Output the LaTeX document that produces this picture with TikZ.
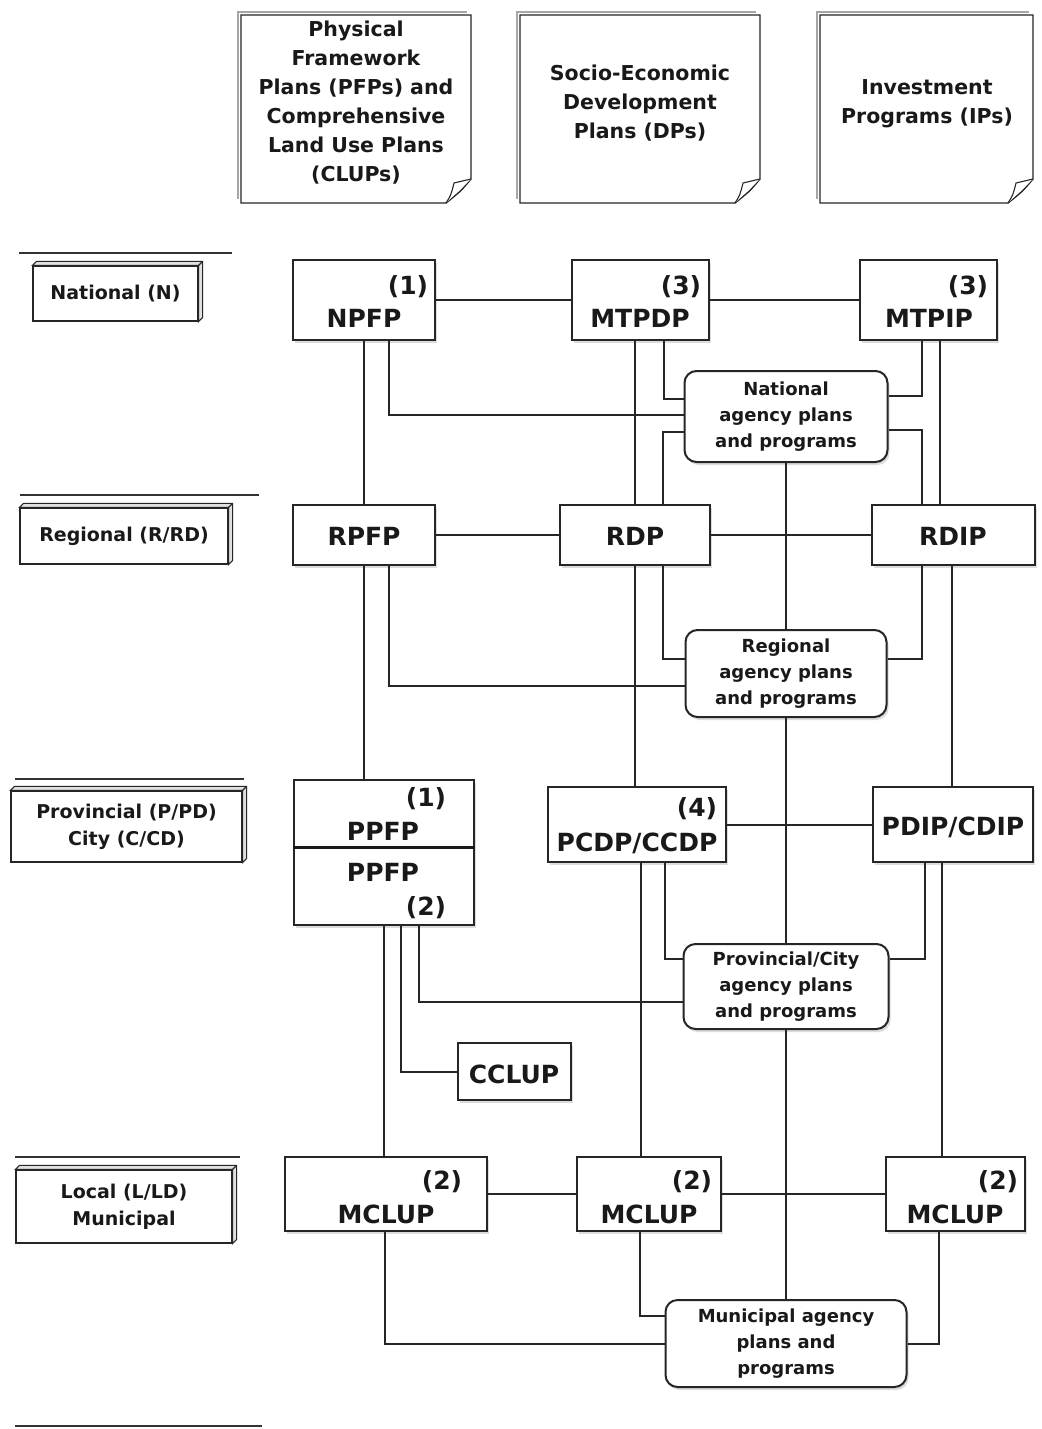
\documentclass[tikz,border=0pt]{standalone}
\usepackage{fontspec}
\setmainfont{DejaVu Sans}
\usetikzlibrary{shadows}
\tikzset{
  ink/.style={draw=black!85},
  conn/.style={draw=black!85, line width=1.3pt},
  pbox/.style={draw=black!85, line width=1.5pt, fill=white, inner sep=0pt,
    drop shadow={shadow xshift=2pt, shadow yshift=-3pt, fill=black!30, opacity=0.45}},
  agency/.style={pbox, rounded corners=12pt, line width=2pt, align=center,
    font=\fontsize{18}{26}\selectfont\bfseries, text=black!90},
  big/.style={anchor=base, inner sep=0pt, font=\fontsize{25}{30}\selectfont\bfseries, text=black!90},
  level/.style={draw=black!85, line width=1.2pt, fill=white, inner sep=0pt, align=center,
    font=\fontsize{19}{27}\selectfont\bfseries, text=black!90},
  doc/.style={draw=black!85, line width=1.4pt, fill=white},
  doctext/.style={align=center, inner sep=0pt, font=\fontsize{20.5}{29}\selectfont\bfseries, text=black!90},
  sep/.style={draw=black!80, line width=1.3pt},
}
\newcommand{\docpage}[4]{%
  \draw[black!35, line width=2.2pt] (#1-3,#4-4) -- (#1-3,#2-3) -- (#3-4,#2-3);
  \draw[doc] (#1,#2) -- (#3,#2) -- (#3,#4-24) .. controls (#3-10,#4-12) .. (#3-25,#4) -- (#1,#4) -- cycle;
  \draw[doc, line width=1.1pt] (#3-25,#4) .. controls (#3-20,#4-8) .. (#3-17,#4-20) -- (#3,#4-24);
}
\newcommand{\depthbox}[1]{%
  \draw[ink, line width=1.1pt, fill=black!12] (#1.north west) -- ++(4,-4) -- ([shift={(4pt,4pt)}]#1.north east)
    -- ([shift={(4pt,4pt)}]#1.south east) -- (#1.south east) -- (#1.north east) -- cycle;
  \draw[ink, line width=1.1pt] (#1.north east) -- ++(4,-4);
}
\begin{document}
\begin{tikzpicture}[x=1pt, y=-1pt]
\useasboundingbox (0,0) rectangle (1041,1429);
\fill[white] (0,0) rectangle (1041,1429);

% ---------- top documents ----------
\docpage{241}{15}{471}{203}
\docpage{520}{15}{760}{203}
\docpage{820}{15}{1033}{203}
\node[doctext] (docA) at (356,103) {Physical\\Framework\\Plans (PFPs) and\\Comprehensive\\Land Use Plans\\(CLUPs)};
\node[doctext] (docB) at (640,103) {Socio-Economic\\Development\\Plans (DPs)};
\node[doctext] (docC) at (927,104) {Investment\\Programs (IPs)};

% ---------- level separators ----------
\draw[sep] (19,253) -- (232,253);
\draw[sep] (20,495) -- (259,495);
\draw[sep] (15,779) -- (244,779);
\draw[sep] (15,1157) -- (240,1157);
\draw[sep] (15,1426) -- (262,1426);

% ---------- level labels ----------
\node[level, minimum width=165pt, minimum height=55pt] (lvN) at (115.5,293.5) {National (N)};
\node[level, minimum width=208pt, minimum height=56pt] (lvR) at (124,536) {Regional (R/RD)};
\node[level, minimum width=231pt, minimum height=71pt] (lvP) at (126.5,826.5) {Provincial (P/PD)\\City (C/CD)};
\node[level, minimum width=216pt, minimum height=73pt] (lvL) at (124,1206.5) {Local (L/LD)\\Municipal};
\depthbox{lvN}
\depthbox{lvR}
\depthbox{lvP}
\depthbox{lvL}

% ---------- plan boxes ----------
\node[pbox, minimum width=142pt, minimum height=80pt] (npfp) at (364,300) {};
\node[pbox, minimum width=137pt, minimum height=80pt] (mtpdp) at (640.5,300) {};
\node[pbox, minimum width=137pt, minimum height=80pt] (mtpip) at (928.5,300) {};
\node[pbox, minimum width=142pt, minimum height=60pt] (rpfp) at (364,535) {};
\node[pbox, minimum width=150pt, minimum height=60pt] (rdp) at (635,535) {};
\node[pbox, minimum width=163pt, minimum height=60pt] (rdip) at (953.5,535) {};
\node[pbox, minimum width=180pt, minimum height=145pt] (ppfp) at (384,852.5) {};
\node[pbox, minimum width=178pt, minimum height=75pt] (pcdp) at (637,824.5) {};
\node[pbox, minimum width=160pt, minimum height=75pt] (pdip) at (953,824.5) {};
\node[pbox, minimum width=113pt, minimum height=57pt] (cclup) at (514.5,1071.5) {};
\node[pbox, minimum width=202pt, minimum height=74pt] (mclupA) at (386,1194) {};
\node[pbox, minimum width=144pt, minimum height=74pt] (mclupB) at (649,1194) {};
\node[pbox, minimum width=139pt, minimum height=74pt] (mclupC) at (955.5,1194) {};
\draw[draw=black!90, line width=3pt] (ppfp.west |- 0,847) -- (ppfp.east |- 0,847);

% ---------- agency boxes ----------
\node[agency, minimum width=203pt, minimum height=91pt] (nat) at (786,416.5) {National\\agency plans\\and programs};
\node[agency, minimum width=201pt, minimum height=87pt] (reg) at (786,673.5) {Regional\\agency plans\\and programs};
\node[agency, minimum width=205pt, minimum height=85pt] (prov) at (786,986.5) {Provincial/City\\agency plans\\and programs};
\node[agency, minimum width=241pt, minimum height=87pt] (mun) at (786,1343.5) {Municipal agency\\plans and\\programs};

% ---------- box texts ----------
\node[big] (npfpN) at (408,294) {(1)};
\node[big] (npfpT) at (364,327) {NPFP};
\node[big] (mtpdpN) at (681,294) {(3)};
\node[big] (mtpdpT) at (640,327) {MTPDP};
\node[big] (mtpipN) at (968,294) {(3)};
\node[big] (mtpipT) at (929,327) {MTPIP};
\node[big] (rpfpT) at (364,545) {RPFP};
\node[big] (rdpT) at (635,545) {RDP};
\node[big] (rdipT) at (953,545) {RDIP};
\node[big] (ppfpN1) at (426,806) {(1)};
\node[big] (ppfpT1) at (383,840) {PPFP};
\node[big] (ppfpT2) at (383,881) {PPFP};
\node[big] (ppfpN2) at (426,915) {(2)};
\node[big] (pcdpN) at (697,816) {(4)};
\node[big] (pcdpT) at (637,851) {PCDP/CCDP};
\node[big] (pdipT) at (953,835) {PDIP/CDIP};
\node[big] (cclupT) at (514,1083) {CCLUP};
\node[big] (mclupAN) at (442,1189) {(2)};
\node[big] (mclupAT) at (386,1223) {MCLUP};
\node[big] (mclupBN) at (692,1189) {(2)};
\node[big] (mclupBT) at (649,1223) {MCLUP};
\node[big] (mclupCN) at (998,1189) {(2)};
\node[big] (mclupCT) at (955,1223) {MCLUP};

% ---------- horizontal links ----------
\draw[conn] (npfp.east) -- (mtpdp.west);
\draw[conn] (mtpdp.east) -- (mtpip.west);
\draw[conn] (rpfp.east) -- (rdp.west);
\draw[conn] (rdp.east) -- (rdip.west);
\draw[conn] ([yshift=-0.5pt]pcdp.east) -- ([yshift=-0.5pt]pdip.west);
\draw[conn] (mclupA.east) -- (mclupB.west);
\draw[conn] (mclupB.east) -- (mclupC.west);

% ---------- central agency spine ----------
\draw[conn] (nat.south) -- (reg.north);
\draw[conn] (reg.south) -- (prov.north);
\draw[conn] (prov.south) -- (mun.north);

% ---------- national level ----------
\draw[conn] (npfp.south) -- (npfp.south |- rpfp.north);
\draw[conn] ([xshift=25pt]npfp.south) |- ([yshift=1.5pt]nat.west);
\draw[conn] ([xshift=-5.5pt]mtpdp.south) -- ([xshift=-5.5pt]mtpdp.south |- rdp.north);
\draw[conn] ([xshift=23.5pt]mtpdp.south) |- ([yshift=17.5pt]nat.west);
\draw[conn] ([yshift=-15.5pt]nat.west) -| ([xshift=28pt]rdp.north);
\draw[conn] ([xshift=-6.5pt]mtpip.south) |- ([yshift=20.5pt]nat.east);
\draw[conn] ([xshift=11.5pt]mtpip.south) -- ([xshift=11.5pt]mtpip.south |- rdip.north);
\draw[conn] ([yshift=-13.5pt]nat.east) -| ([xshift=-31.5pt]rdip.north);

% ---------- regional level ----------
\draw[conn] (rpfp.south) -- (rpfp.south |- ppfp.north);
\draw[conn] ([xshift=25pt]rpfp.south) |- ([yshift=-12.5pt]reg.west);
\draw[conn] (rdp.south) -- (rdp.south |- pcdp.north);
\draw[conn] ([xshift=28pt]rdp.south) |- ([yshift=14.5pt]reg.west);
\draw[conn] ([xshift=-31.5pt]rdip.south) |- ([yshift=14.5pt]reg.east);
\draw[conn] ([xshift=-1.5pt]rdip.south) -- ([xshift=-1.5pt]rdip.south |- pdip.north);

% ---------- provincial level ----------
\draw[conn] (ppfp.south) -- (ppfp.south |- mclupA.north);
\draw[conn] ([xshift=17pt]ppfp.south) |- ([yshift=-0.5pt]cclup.west);
\draw[conn] ([xshift=35pt]ppfp.south) |- ([yshift=-15.5pt]prov.west);
\draw[conn] ([xshift=4pt]pcdp.south) -- ([xshift=4pt]pcdp.south |- mclupB.north);
\draw[conn] ([xshift=28pt]pcdp.south) |- ([yshift=27.5pt]prov.west);
\draw[conn] ([xshift=-28pt]pdip.south) |- ([yshift=27.5pt]prov.east);
\draw[conn] ([xshift=-11pt]pdip.south) -- ([xshift=-11pt]pdip.south |- mclupC.north);

% ---------- municipal level ----------
\draw[conn] ([xshift=-1pt]mclupA.south) |- ([yshift=-0.5pt]mun.west);
\draw[conn] ([xshift=-9pt]mclupB.south) |- ([yshift=27.5pt]mun.west);
\draw[conn] ([xshift=-16.5pt]mclupC.south) |- ([yshift=-0.5pt]mun.east);
\end{tikzpicture}
\end{document}
